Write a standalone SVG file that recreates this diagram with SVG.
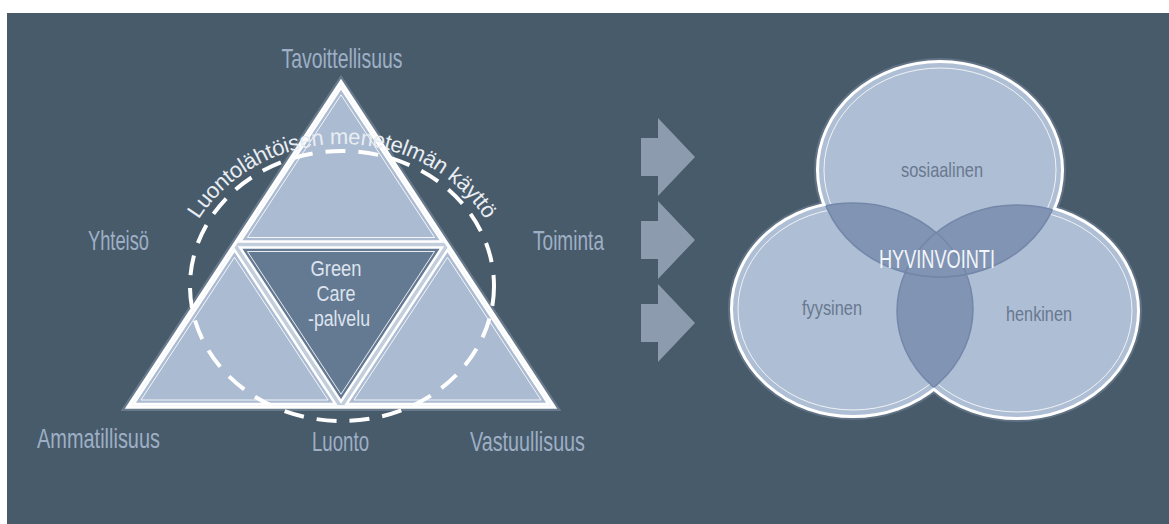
<svg xmlns="http://www.w3.org/2000/svg" width="1169" height="524" viewBox="0 0 1169 524">
  <defs>
    <style>
      .lbl { font-family: "Liberation Sans", "DejaVu Sans", sans-serif; font-size: 28px; fill: #9eafc5; text-anchor: middle; }
      .gc { font-family: "Liberation Sans", "DejaVu Sans", sans-serif; font-size: 22px; fill: #dde4ee; text-anchor: middle; }
      .vl { font-family: "Liberation Sans", "DejaVu Sans", sans-serif; font-size: 21px; fill: #68788f; text-anchor: middle; }
      .hv { font-family: "Liberation Sans", "DejaVu Sans", sans-serif; font-size: 26px; fill: #f2f5f9; text-anchor: middle; }
      .arc { font-family: "Liberation Sans", "DejaVu Sans", sans-serif; font-size: 22px; fill: #e8edf3; }
      .sub { fill: #abbbd1; stroke: #ffffff; stroke-width: 2.5; stroke-linejoin: miter; }
      .subc { fill: #647a93; stroke: #ffffff; stroke-width: 2.5; }
      .inner { fill: none; stroke: #ffffff; stroke-width: 1; opacity: 0.85; }
      .arrow { fill: #8d9bae; }
      .vborder { fill: #aebed4; stroke: #ffffff; stroke-width: 6; }
      .vfill { fill: #aebed4; }
      .vinner { fill: none; stroke: #ffffff; stroke-width: 1; opacity: 0.8; }
      .lens { fill: #8194b4; stroke: #7387a9; stroke-width: 1.5; }
      .lensline { fill: none; stroke: #7387a9; stroke-width: 1.5; }
    </style>
    <clipPath id="cT"><ellipse cx="940" cy="170" rx="121" ry="107"/></clipPath>
    <clipPath id="cL"><ellipse cx="853" cy="309" rx="120" ry="106"/></clipPath>
    <clipPath id="cR"><ellipse cx="1017" cy="311" rx="120" ry="106"/></clipPath>
    <path id="arcPath" d="M 186.95 242.7 A 165 150 0 0 1 497.05 242.7"/>
  </defs>

  <rect x="7" y="13" width="1162" height="511" fill="#485b6b"/>

  <!-- Triangle -->
  <g id="triangle">
    <polygon points="341,82 128,407 554,407" fill="none" stroke="#8e9db1" stroke-width="8" opacity="0.45" stroke-linejoin="miter"/>
    <polygon points="341,82 128,407 554,407" fill="#c3cedd" stroke="#ffffff" stroke-width="3.5"/>
  </g>
  <g id="tri-top">
    <polygon class="sub" points="341,87.5 240.05,241.5 441.95,241.5"/>
    <polygon class="inner" points="341,94.8 247.45,237.5 434.55,237.5"/>
  </g>
  <g id="tri-left">
    <polygon class="sub" points="234.5,250 133.55,404 335.45,404"/>
    <polygon class="inner" points="234.5,257.3 140.95,400 328.05,400"/>
  </g>
  <g id="tri-right">
    <polygon class="sub" points="447.5,250 346.55,404 548.45,404"/>
    <polygon class="inner" points="447.5,257.3 353.95,400 541.05,400"/>
  </g>
  <g id="tri-center">
    <polygon class="subc" points="240.05,247.5 441.95,247.5 341,401.5"/>
    <polygon class="inner" points="247.45,251.5 434.55,251.5 341,394.2"/>
    <text class="gc" x="336" y="276" textLength="51" lengthAdjust="spacingAndGlyphs">Green</text>
    <text class="gc" x="336" y="301" textLength="39" lengthAdjust="spacingAndGlyphs">Care</text>
    <text class="gc" x="339" y="326" textLength="62" lengthAdjust="spacingAndGlyphs">-palvelu</text>
  </g>

  <g id="dashed-ring">
    <ellipse cx="342" cy="286" rx="152" ry="135" fill="none" stroke="#ffffff" stroke-width="4" stroke-dasharray="20 13"/>
    <text class="arc"><textPath href="#arcPath" startOffset="50%" text-anchor="middle" letter-spacing="-0.3">Luontolähtöisen menetelmän käyttö</textPath></text>
  </g>

  <g id="labels">
    <text class="lbl" x="342" y="68" textLength="121" lengthAdjust="spacingAndGlyphs">Tavoittellisuus</text>
    <text class="lbl" x="118.5" y="250" textLength="61" lengthAdjust="spacingAndGlyphs">Yhteisö</text>
    <text class="lbl" x="568.5" y="250" textLength="71" lengthAdjust="spacingAndGlyphs">Toiminta</text>
    <text class="lbl" x="98.5" y="448" textLength="123" lengthAdjust="spacingAndGlyphs">Ammatillisuus</text>
    <text class="lbl" x="340.5" y="451" textLength="57" lengthAdjust="spacingAndGlyphs">Luonto</text>
    <text class="lbl" x="527.5" y="451" textLength="115" lengthAdjust="spacingAndGlyphs">Vastuullisuus</text>
  </g>

  <!-- Arrows -->
  <g id="connectors">
    <polygon class="arrow" points="641,138 658,138 658,118 695,157 658,196 658,176 641,176"/>
    <polygon class="arrow" points="641,221 658,221 658,201 695,240 658,279 658,259 641,259"/>
    <polygon class="arrow" points="641,304 658,304 658,284 695,323 658,362 658,342 641,342"/>
  </g>

  <!-- Venn -->
  <g id="venn-base">
    <ellipse cx="940" cy="170" rx="121" ry="107" fill="none" stroke="#8e9db1" stroke-width="10" opacity="0.35"/>
    <ellipse cx="853" cy="309" rx="120" ry="106" fill="none" stroke="#8e9db1" stroke-width="10" opacity="0.35"/>
    <ellipse cx="1017" cy="311" rx="120" ry="106" fill="none" stroke="#8e9db1" stroke-width="10" opacity="0.35"/>
    <ellipse class="vborder" cx="940" cy="170" rx="121" ry="107"/>
    <ellipse class="vborder" cx="853" cy="309" rx="120" ry="106"/>
    <ellipse class="vborder" cx="1017" cy="311" rx="120" ry="106"/>
    <ellipse class="vfill" cx="940" cy="170" rx="121" ry="107"/>
    <ellipse class="vfill" cx="853" cy="309" rx="120" ry="106"/>
    <ellipse class="vfill" cx="1017" cy="311" rx="120" ry="106"/>
  </g>
  <g id="venn-sosiaalinen">
    <ellipse class="vinner" cx="940" cy="170" rx="116" ry="102"/>
    <text class="vl" x="942" y="177" textLength="82" lengthAdjust="spacingAndGlyphs">sosiaalinen</text>
  </g>
  <g id="venn-fyysinen">
    <ellipse class="vinner" cx="853" cy="309" rx="115" ry="101"/>
    <text class="vl" x="832" y="315" textLength="60" lengthAdjust="spacingAndGlyphs">fyysinen</text>
  </g>
  <g id="venn-henkinen">
    <ellipse class="vinner" cx="1017" cy="311" rx="115" ry="101"/>
    <text class="vl" x="1039" y="321" textLength="66" lengthAdjust="spacingAndGlyphs">henkinen</text>
  </g>
  <g id="venn-overlaps">
    <ellipse class="lens" cx="853" cy="309" rx="120" ry="106" clip-path="url(#cT)"/>
    <ellipse class="lens" cx="1017" cy="311" rx="120" ry="106" clip-path="url(#cT)"/>
    <ellipse class="lens" cx="1017" cy="311" rx="120" ry="106" clip-path="url(#cL)"/>
    <ellipse class="lensline" cx="940" cy="170" rx="121" ry="107" clip-path="url(#cL)"/>
    <ellipse class="lensline" cx="940" cy="170" rx="121" ry="107" clip-path="url(#cR)"/>
    <ellipse class="lensline" cx="853" cy="309" rx="120" ry="106" clip-path="url(#cR)"/>
  </g>
  <g id="venn-center">
    <text class="hv" x="937" y="268" textLength="116" lengthAdjust="spacingAndGlyphs">HYVINVOINTI</text>
  </g>
</svg>
